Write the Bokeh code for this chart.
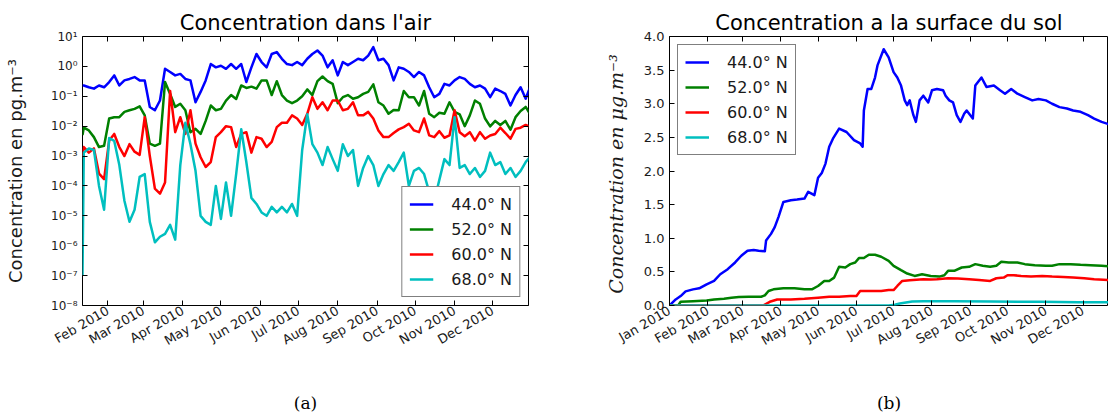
import math
from datetime import datetime, timedelta
import pandas as pd
from bokeh.plotting import figure
from bokeh.layouts import row
from bokeh.models import (ColumnDataSource, Range1d, FixedTicker, DatetimeAxis, LogAxis,
                          Legend, LegendItem)
from bokeh.embed import file_html
from bokeh.resources import INLINE

# ---------------- data ----------------
series_labels = ["44.0° N", "52.0° N", "60.0° N", "68.0° N"]
series_colors = ["#0000ff", "#008000", "#ff0000", "#00bfbf"]

month_labels = ["Jan 2010", "Feb 2010", "Mar 2010", "Apr 2010", "May 2010", "Jun 2010",
                "Jul 2010", "Aug 2010", "Sep 2010", "Oct 2010", "Nov 2010", "Dec 2010"]
month_starts = ["2010-%02d-01" % m for m in range(1, 13)]

log_ticks = [1e-8, 1e-7, 1e-6, 1e-5, 1e-4, 1e-3, 1e-2, 1e-1, 1e0, 1e1]
log_tick_labels = ["10⁻⁸", "10⁻⁷", "10⁻⁶", "10⁻⁵", "10⁻⁴", "10⁻³", "10⁻²", "10⁻¹", "10⁰", "10¹"]

lin_ticks = [0.0, 0.5, 1.0, 1.5, 2.0, 2.5, 3.0, 3.5, 4.0]
lin_tick_labels = ["0.0", "0.5", "1.0", "1.5", "2.0", "2.5", "3.0", "3.5", "4.0"]

# (a) concentration in air (pg.m-3): first sample on 12 Jan, then one sample every 4 days
air_dates = ["2010-01-12"] + [d.strftime("%Y-%m-%d") for d in
                              pd.date_range("2010-01-13", periods=89, freq="4D")]
air_44N = [2.3e-1,
           2.3e-1, 2.0e-1, 1.8e-1, 2.3e-1, 2.0e-1, 3.0e-1, 5.0e-1, 2.3e-1, 3.4e-1, 3.8e-1,
           4.4e-1, 3.4e-1, 3.4e-1, 4.4e-2, 3.4e-2, 7.2e-2, 8.3e-1, 6.5e-1, 5.0e-1, 5.6e-1,
           3.8e-1, 3.4e-1, 6.3e-2, 1.4e-1, 3.4e-1, 1.2, 9.3e-1, 1.05, 8.3e-1, 1.2,
           8.3e-1, 1.2, 3.0e-1, 9.3e-1, 2.6, 1.4, 9.3e-1, 2.6, 3.0, 1.8,
           1.2, 1.1, 1.4, 1.1, 1.8, 2.6, 3.4, 2.3, 9.3e-1, 1.6,
           5.0e-1, 1.4, 1.1, 1.4, 1.8, 1.6, 2.3, 4.4, 1.6, 1.8,
           1.1, 3.4e-1, 9.3e-1, 8.3e-1, 6.5e-1, 4.4e-1, 6.5e-1, 5.0e-1, 2.0e-1, 9.3e-2,
           1.2e-1, 2.6e-1, 2.3e-1, 3.4e-1, 4.4e-1, 3.8e-1, 2.6e-1, 2.0e-1, 2.3e-1, 1.8e-1,
           9.3e-2, 1.8e-1, 1.5e-1, 1.2e-1, 4.9e-2, 1.1e-1, 2.0e-1, 8.3e-2, 2.3e-1]
air_52N = [5.0e-3,
           8.9e-3, 7.2e-3, 4.3e-3, 2.0e-3, 2.2e-3, 1.8e-2, 2.0e-2, 2.0e-2, 3.0e-2, 3.4e-2,
           3.8e-2, 4.6e-2, 2.3e-2, 2.6e-3, 2.2e-3, 2.6e-3, 3.0e-1, 1.2e-1, 4.4e-2, 5.6e-2,
           3.4e-2, 6.3e-3, 8.1e-3, 5.5e-3, 1.5e-2, 4.9e-2, 3.4e-2, 3.8e-2, 7.2e-2, 1.1e-1,
           8.1e-2, 2.3e-1, 1.9e-1, 2.1e-1, 1.8e-1, 3.4e-1, 3.4e-1, 1.1e-1, 3.2e-1, 1.1e-1,
           7.2e-2, 5.9e-2, 7.2e-2, 1.0e-1, 1.7e-1, 1.1e-1, 3.2e-1, 4.6e-1, 3.2e-1, 2.6e-1,
           5.9e-2, 9.3e-2, 1.1e-1, 8.3e-2, 9.3e-2, 1.2e-1, 1.4e-1, 2.5e-1, 6.3e-2, 4.9e-2,
           2.6e-2, 3.5e-2, 3.4e-2, 1.5e-1, 9.3e-2, 9.3e-2, 4.9e-2, 1.5e-1, 2.6e-2, 2.0e-2,
           2.8e-2, 2.6e-2, 6.3e-2, 3.0e-2, 2.5e-2, 1.0e-2, 2.3e-2, 7.2e-2, 5.6e-2, 1.8e-2,
           9.8e-3, 1.5e-2, 1.1e-2, 1.5e-2, 7.6e-3, 2.0e-2, 3.2e-2, 4.4e-2, 2.3e-2]
air_60N = [1.0e-3,
           2.0e-3, 1.3e-3, 1.8e-3, 2.6e-4, 1.7e-4, 3.3e-3, 5.5e-3, 2.0e-3, 1.0e-3, 2.5e-3,
           1.4e-3, 1.1e-3, 2.0e-2, 1.0e-3, 8.1e-5, 5.5e-5, 1.3e-4, 1.5e-1, 6.3e-3, 2.0e-2,
           5.5e-3, 3.4e-2, 2.6e-3, 9.1e-4, 4.3e-4, 6.3e-4, 4.3e-3, 6.3e-3, 1.0e-2, 9.3e-3,
           2.0e-3, 5.5e-3, 6.3e-3, 1.3e-3, 4.3e-3, 3.8e-3, 2.0e-3, 3.0e-3, 9.3e-3, 1.3e-2,
           1.3e-2, 2.3e-2, 1.8e-2, 1.1e-2, 2.6e-2, 9.3e-2, 3.8e-2, 6.3e-2, 3.4e-2, 7.2e-2,
           7.2e-2, 3.4e-2, 3.8e-2, 6.3e-2, 2.3e-2, 2.3e-2, 3.0e-2, 1.8e-2, 7.2e-3, 4.3e-3,
           4.3e-3, 5.9e-3, 7.8e-3, 9.3e-3, 1.2e-2, 7.2e-3, 6.3e-3, 1.8e-2, 4.9e-3, 4.3e-3,
           6.8e-3, 4.1e-3, 4.9e-3, 3.4e-2, 6.3e-3, 4.6e-3, 6.3e-3, 3.3e-3, 6.3e-3, 3.8e-3,
           4.9e-3, 5.5e-3, 8.9e-3, 5.9e-3, 3.8e-3, 8.1e-3, 8.9e-3, 1.1e-2, 9.3e-3]
air_68N = [1.0e-7,
           1.3e-3, 1.8e-3, 1.6e-3, 1.0e-4, 1.6e-5, 4.0e-3, 3.2e-3, 5.0e-4, 3.2e-5, 6.3e-6,
           1.6e-5, 2.0e-4, 2.5e-4, 6.3e-6, 1.3e-6, 2.0e-6, 2.5e-6, 5.0e-6, 1.6e-6, 5.0e-4,
           1.3e-2, 2.5e-3, 3.2e-4, 1.0e-5, 6.3e-6, 5.0e-6, 1.0e-4, 7.9e-6, 1.3e-4, 1.0e-5,
           2.5e-4, 7.9e-3, 6.3e-4, 4.0e-5, 2.5e-5, 1.3e-5, 1.0e-5, 2.0e-5, 1.3e-5, 2.0e-5,
           1.3e-5, 2.5e-5, 1.0e-5, 1.6e-3, 2.5e-2, 2.5e-3, 1.3e-3, 5.0e-4, 2.0e-3, 7.9e-4,
           3.2e-4, 2.5e-3, 1.0e-3, 1.6e-3, 1.0e-4, 4.0e-4, 1.0e-3, 5.0e-4, 1.0e-4, 2.5e-4,
           5.0e-4, 3.2e-4, 6.3e-4, 1.3e-3, 1.0e-4, 3.2e-4, 4.0e-4, 2.5e-4, 6.3e-5, 3.2e-5,
           1.6e-4, 7.9e-4, 5.0e-4, 2.0e-2, 4.0e-4, 5.0e-4, 2.5e-4, 4.0e-4, 2.0e-4, 3.2e-4,
           1.3e-3, 5.0e-4, 6.3e-4, 2.5e-4, 4.0e-4, 2.0e-4, 3.2e-4, 6.3e-4, 1.0e-3]

# (b) concentration at ground surface (ug.m-3): day of 2010, value
soil_44N_day = [0, 5, 9, 13, 19, 24, 30, 36, 41, 47, 53, 58, 63, 68, 72, 77, 78, 82, 85, 88,
                92, 98, 103, 109, 112, 117, 120, 123, 126, 129, 132, 137, 143, 149, 154, 156, 157, 160, 163, 166,
                168, 173, 177, 181, 184, 187, 190, 192, 194, 197, 199, 202, 205, 209, 212, 216, 221, 223, 226, 229,
                232, 235, 238, 240, 245, 247, 252, 256, 262, 267, 271, 276, 281, 287, 293, 298, 304, 309, 315, 321,
                326, 332, 338, 343, 349, 354, 358]
soil_44N = [0.0, 0.09, 0.14, 0.21, 0.24, 0.255, 0.315, 0.365, 0.465, 0.54, 0.64, 0.74, 0.815, 0.825, 0.815, 0.805, 0.965, 1.065, 1.165, 1.315,
            1.54, 1.565, 1.575, 1.59, 1.69, 1.64, 1.9, 1.97, 2.11, 2.36, 2.48, 2.63, 2.58, 2.46, 2.41, 2.36, 2.9, 3.22, 3.22, 3.39,
            3.57, 3.81, 3.69, 3.47, 3.39, 3.27, 3.05, 2.98, 3.05, 2.83, 2.73, 3.05, 3.12, 3.02, 3.2, 3.22, 3.2, 3.12, 3.05, 3.02,
            2.83, 2.73, 2.85, 2.9, 2.78, 3.27, 3.39, 3.25, 3.27, 3.2, 3.15, 3.22, 3.15, 3.1, 3.05, 3.07, 3.05, 3.0, 2.95, 2.93,
            2.9, 2.88, 2.83, 2.78, 2.73, 2.7, 2.68]
soil_52N_day = [0, 7, 9, 19, 30, 36, 44, 50, 56, 64, 74, 77, 80, 84, 92, 101, 109, 115, 120, 125,
                129, 133, 137, 142, 146, 150, 153, 157, 161, 166, 171, 177, 181, 187, 192, 198, 204, 211, 218, 222,
                225, 230, 236, 242, 247, 253, 259, 264, 268, 274, 281, 287, 295, 304, 309, 315, 324, 332, 340, 349, 358]
soil_52N = [0.0, 0.0, 0.055, 0.065, 0.075, 0.09, 0.1, 0.115, 0.125, 0.13, 0.13, 0.15, 0.215, 0.24, 0.255, 0.255, 0.24, 0.24, 0.29, 0.365,
            0.365, 0.415, 0.575, 0.565, 0.615, 0.64, 0.705, 0.705, 0.755, 0.755, 0.725, 0.665, 0.59, 0.525, 0.475, 0.44, 0.465, 0.44, 0.43, 0.45,
            0.515, 0.515, 0.565, 0.575, 0.615, 0.59, 0.575, 0.59, 0.65, 0.64, 0.64, 0.615, 0.6, 0.59, 0.59, 0.615, 0.615, 0.605, 0.6, 0.59, 0.58]
soil_60N_day = [0, 76, 77, 81, 87, 98, 109, 120, 129, 137, 146, 151, 154, 163, 171, 177, 181, 184, 188, 194,
                205, 211, 216, 225, 233, 242, 250, 259, 264, 270, 273, 278, 284, 292, 301, 309, 318, 326, 335, 343, 358]
soil_60N = [0.0, 0.0, 0.015, 0.055, 0.09, 0.09, 0.1, 0.115, 0.13, 0.13, 0.14, 0.14, 0.215, 0.215, 0.215, 0.23, 0.23, 0.29, 0.365, 0.375,
            0.39, 0.385, 0.39, 0.405, 0.4, 0.39, 0.38, 0.365, 0.405, 0.415, 0.45, 0.45, 0.44, 0.43, 0.44, 0.43, 0.425, 0.415, 0.405, 0.39, 0.375]
soil_68N_day = [0, 177, 182, 186, 191, 196, 205, 230, 260, 300, 330, 358]
soil_68N = [0.0, 0.0, 0.01, 0.03, 0.045, 0.06, 0.065, 0.065, 0.06, 0.055, 0.05, 0.05]

# ---------------- helpers ----------------
FONT = "DejaVu Sans"
TXT = "#1a1a1a"
base = datetime(2010, 1, 1)


def to_dt(days):
    return [base + timedelta(days=d) for d in days]


month_ms = [pd.Timestamp(s).value / 1e6 for s in month_starts]
month_overrides = {ms: lab for ms, lab in zip(month_ms, month_labels)}


def style_axis(ax, size="13px"):
    ax.axis_line_color = None
    ax.major_tick_in = 5
    ax.major_tick_out = 0
    ax.minor_tick_in = 0
    ax.minor_tick_out = 0
    ax.major_tick_line_color = "black"
    ax.major_label_text_font = FONT
    ax.major_label_text_font_size = size
    ax.major_label_text_color = TXT


def hidden_axis(ax, ticks):
    style_axis(ax)
    ax.major_label_text_font_size = "1px"
    ax.major_label_text_alpha = 0
    ax.major_label_standoff = 0
    ax.major_label_overrides = {t: "" for t in ticks}


def style_common(p, caption):
    p.outline_line_color = "black"
    p.outline_line_width = 1
    p.xgrid.grid_line_color = None
    p.ygrid.grid_line_color = None
    p.background_fill_color = "white"
    p.border_fill_color = "white"
    p.title.text_font = FONT
    p.title.text_font_size = "21px"
    p.title.text_font_style = "normal"
    p.title.text_color = "black"
    p.title.align = "center"
    p.title.standoff = 3
    xa = p.xaxis[0]
    style_axis(xa)
    xa.ticker = FixedTicker(ticks=month_ms)
    xa.major_label_overrides = month_overrides
    xa.major_label_orientation = math.pi / 6
    xa.major_label_standoff = 4
    xa.axis_label = caption
    xa.axis_label_text_font = "DejaVu Serif"
    xa.axis_label_text_font_size = "17px"
    xa.axis_label_text_font_style = "normal"
    xa.axis_label_text_color = "black"
    xa.axis_label_standoff = 35
    top = DatetimeAxis(ticker=FixedTicker(ticks=month_ms))
    hidden_axis(top, month_ms)
    p.add_layout(top, "above")


def make_legend(p, renderers, location):
    items = [LegendItem(label=lab, renderers=[r]) for lab, r in zip(series_labels, renderers)]
    lg = Legend(items=items, location=location)
    lg.border_line_color = "black"
    lg.border_line_width = 1
    lg.background_fill_alpha = 1.0
    lg.label_text_font = FONT
    lg.label_text_font_size = "16px"
    lg.label_text_color = TXT
    lg.glyph_width = 24
    lg.glyph_height = 20
    lg.label_height = 20
    lg.spacing = 5
    lg.padding = 7
    lg.label_standoff = 18
    lg.margin = 8
    p.add_layout(lg)


# ---------------- (a) ----------------
p1 = figure(width=600, height=415, x_axis_type="datetime", y_axis_type="log",
            x_range=Range1d(datetime(2010, 1, 12), datetime(2010, 12, 29, 5)),
            y_range=Range1d(1e-8, 10),
            title="Concentration dans l'air",
            output_backend="svg", toolbar_location=None,
            min_border_left=82, min_border_right=72, min_border_top=36, min_border_bottom=110)
style_common(p1, "(a)")
ya = p1.yaxis[0]
style_axis(ya, "12px")
ya.ticker = FixedTicker(ticks=log_ticks)
ya.major_label_overrides = {t: lab for t, lab in zip(log_ticks, log_tick_labels)}
ya.axis_label = "Concentration en pg.m⁻³"
ya.axis_label_text_font = FONT
ya.axis_label_text_font_size = "18px"
ya.axis_label_text_font_style = "normal"
ya.axis_label_text_color = TXT
ya.axis_label_standoff = 22
right_ax = LogAxis(ticker=FixedTicker(ticks=log_ticks))
hidden_axis(right_ax, log_ticks)
p1.add_layout(right_ax, "right")

air_src = ColumnDataSource(dict(date=[datetime.strptime(s, "%Y-%m-%d") for s in air_dates],
                                s44=air_44N, s52=air_52N, s60=air_60N, s68=air_68N))
r1 = []
for key, col in zip(["s44", "s52", "s60", "s68"], series_colors):
    r1.append(p1.line("date", key, source=air_src, line_color=col, line_width=2.5, line_join="round"))
make_legend(p1, r1, "bottom_right")

# ---------------- (b) ----------------
p2 = figure(width=508, height=415, x_axis_type="datetime",
            x_range=Range1d(datetime(2010, 1, 1), datetime(2010, 12, 21, 14)),
            y_range=Range1d(0, 4),
            title="Concentration a la surface du sol",
            output_backend="svg", toolbar_location=None,
            min_border_left=69, min_border_right=0, min_border_top=36, min_border_bottom=110)
style_common(p2, "(b)")
yb = p2.yaxis[0]
style_axis(yb, "13px")
yb.ticker = FixedTicker(ticks=lin_ticks)
yb.major_label_overrides = {t: lab for t, lab in zip(lin_ticks, lin_tick_labels)}
yb.axis_label = "Concentration en  μg.m⁻³"
yb.axis_label_text_font = "DejaVu Serif"
yb.axis_label_text_font_size = "19px"
yb.axis_label_text_font_style = "italic"
yb.axis_label_text_color = TXT
yb.axis_label_standoff = 14

r2 = []
for days, vals, col in zip([soil_44N_day, soil_52N_day, soil_60N_day, soil_68N_day],
                           [soil_44N, soil_52N, soil_60N, soil_68N], series_colors):
    src = ColumnDataSource(dict(date=to_dt(days), v=vals))
    r2.append(p2.line("date", "v", source=src, line_color=col, line_width=2.5, line_join="round"))
make_legend(p2, r2, "top_left")

layout = row(p1, p2)
open("out.html", "w").write(file_html(layout, INLINE, title="Concentration"))
